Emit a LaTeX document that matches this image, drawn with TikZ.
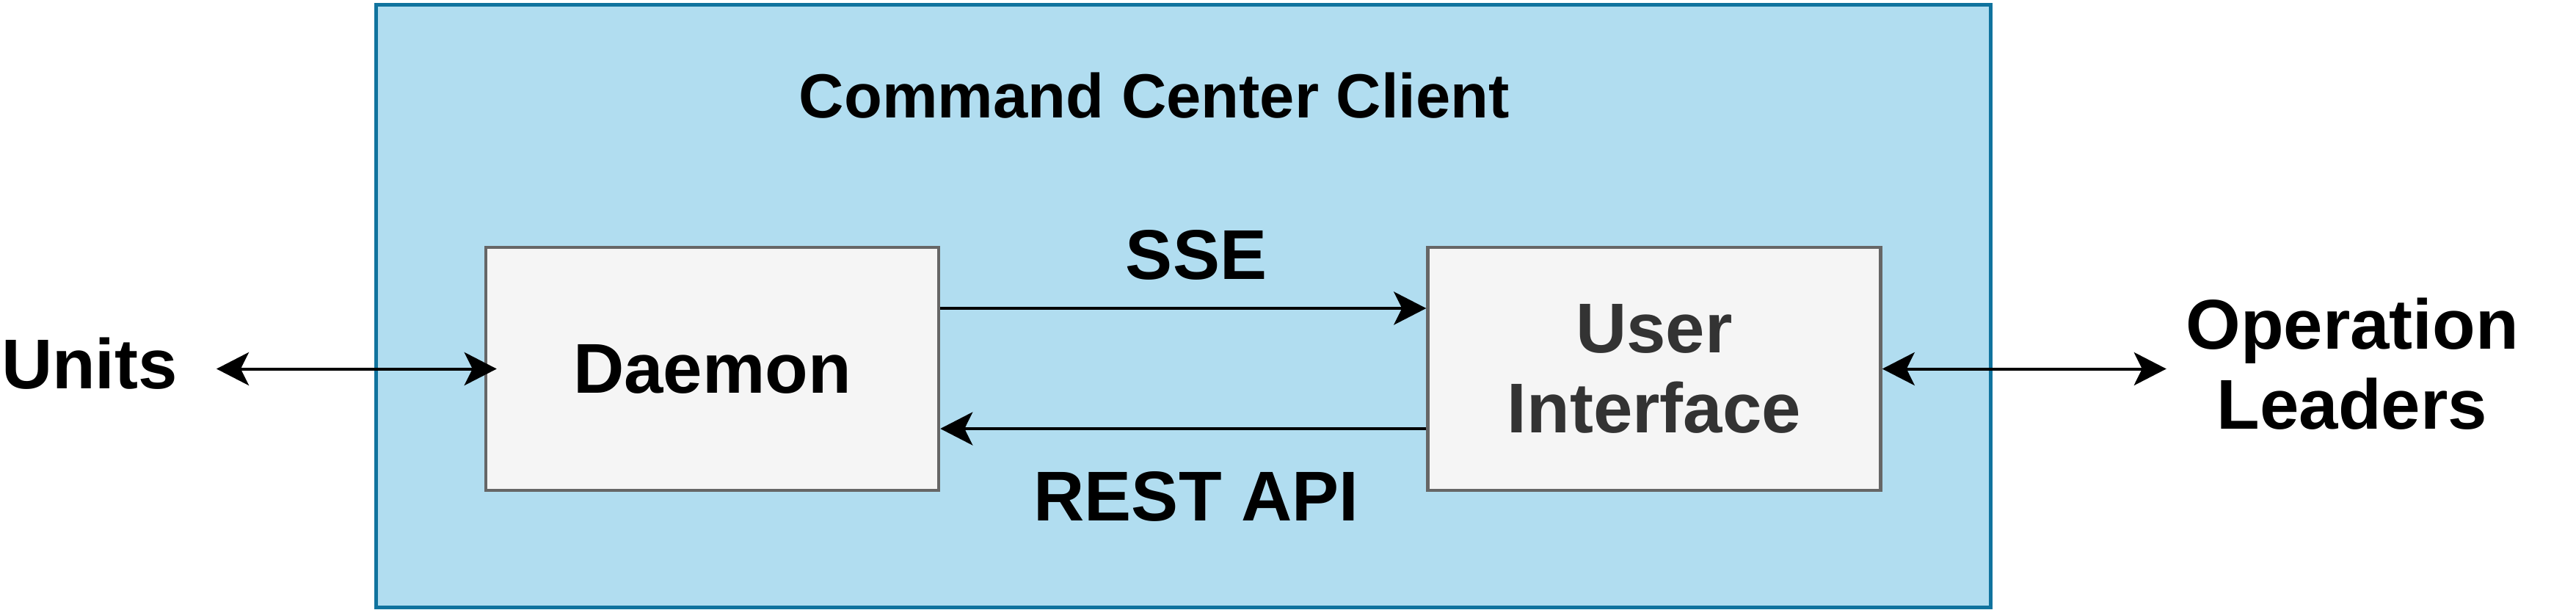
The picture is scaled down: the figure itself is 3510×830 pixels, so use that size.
\documentclass[tikz,border=0pt]{standalone}
\usepackage{fontspec}
\setmainfont{Liberation Sans}
\usetikzlibrary{arrows.meta}
\definecolor{outerfill}{HTML}{B1DDF0}
\definecolor{outerline}{HTML}{10739E}
\definecolor{boxfill}{HTML}{F5F5F5}
\definecolor{boxline}{HTML}{666666}
\definecolor{uitext}{HTML}{333333}
\tikzset{
  outerbox/.style={draw=outerline, fill=outerfill, line width=5pt, minimum width=2200pt, minimum height=821pt, inner sep=0pt},
  compbox/.style={draw=boxline, fill=boxfill, line width=4.5pt, minimum width=617pt, minimum height=331pt, inner sep=0pt, align=center},
  bigtext/.style={font=\fontsize{96}{109}\selectfont\bfseries, inner sep=0pt, align=center},
  titletext/.style={font=\fontsize{85}{100}\selectfont\bfseries, inner sep=0pt},
  conn/.style={line width=4pt, -{Stealth[length=44pt,width=45pt,inset=11pt]}},
  biconn/.style={line width=4pt, {Stealth[length=44pt,width=45pt,inset=11pt]}-{Stealth[length=44pt,width=45pt,inset=11pt]}}
}
\begin{document}
\begin{tikzpicture}[x=1pt,y=-1pt]
\useasboundingbox[fill=white] (0,0) rectangle (3510,830);
\node[outerbox] (client) at (1612,416.5) {};
\node[titletext, anchor=base] (title) at (1573,160) {Command Center Client};
\node[compbox, font=\fontsize{96}{109}\selectfont\bfseries] (daemon) at (970.5,502.5) {Daemon};
\node[compbox, font=\fontsize{96}{109}\selectfont\bfseries, text=uitext] (ui) at (2254,502.5) {User\\Interface};
\node[bigtext, anchor=base] (units) at (122,529) {Units};
\node[bigtext] (ops) at (3205,496) {Operation\\Leaders};
\node[bigtext, anchor=base] (sse) at (1630,380) {SSE};
\node[bigtext, anchor=base] (rest) at (1630,709) {REST API};
\draw[conn] ([yshift=82.5pt]daemon.east) -- ([yshift=82.5pt]ui.west);
\draw[conn] ([yshift=-81.5pt]ui.west) -- ([yshift=-81.5pt]daemon.east);
\coordinate (uend) at (295,502.5);
\draw[biconn, shorten >=-17pt] (uend) -- (daemon.west);
\coordinate (oend) at ([xshift=387pt]ui.east);
\draw[biconn] (ui.east) -- (oend);
\end{tikzpicture}
\end{document}
